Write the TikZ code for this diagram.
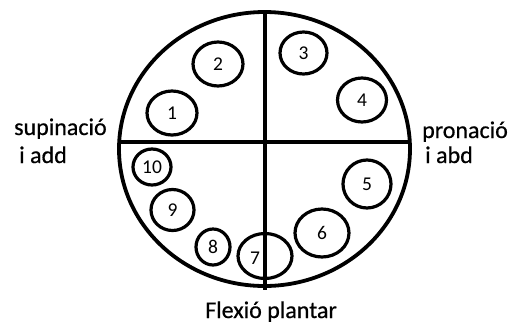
\documentclass[tikz,border=0pt]{standalone}
\usepackage{fontspec}
\setmainfont{Carlito}
\newfontfamily\labelfont[FakeBold=0.6]{Carlito}
\usetikzlibrary{shapes.geometric}
\begin{document}
\begin{tikzpicture}[x=1pt,y=-1pt,
  ring/.style={ellipse,draw,line width=3.2pt,inner sep=0pt,font=\fontsize{19.5}{19.5}\selectfont},
  axis/.style={line width=3.2pt},
  side/.style={font=\labelfont\fontsize{24}{24}\selectfont,anchor=base west,inner sep=0pt}]
\useasboundingbox (0,0) rectangle (515,325);
\draw[line width=3.8pt] (264.5,149) ellipse [x radius=145.5pt, y radius=137pt];
\coordinate (top) at (265,12);
\coordinate (bot) at (265,290);
\coordinate (lft) at (119,142);
\coordinate (rgt) at (410,142);
\draw[axis] (top) -- (bot);
\draw[axis] (lft) -- (rgt);
\node[ring,minimum width=50pt,minimum height=44pt] (c1) at (172,113) {1};
\node[ring,minimum width=50pt,minimum height=44pt] (c2) at (218,64) {2};
\node[ring,minimum width=47pt,minimum height=42pt] (c3) at (303.5,53) {3};
\node[ring,minimum width=49pt,minimum height=44pt] (c4) at (362,100) {4};
\node[ring,minimum width=48pt,minimum height=48pt] (c5) at (367,184) {5};
\node[ring,minimum width=54pt,minimum height=48pt] (c6) at (322,233) {6};
\node[ring,minimum width=54pt,minimum height=45pt] (c7) at (265,256) {};
\node[font=\fontsize{19.5}{19.5}\selectfont,inner sep=0pt] (t7) at (255,258) {7};
\node[ring,minimum width=34pt,minimum height=36pt] (c8) at (213,247) {8};
\node[ring,minimum width=43pt,minimum height=41pt] (c9) at (172.5,210) {9};
\node[ring,minimum width=38pt,minimum height=36pt] (c10) at (152,167) {10};
\node[side] (sup) at (14,135) {supinació};
\node[side] (iadd) at (19,163) {i add};
\node[side] (pro) at (422,138) {pronació};
\node[side] (iabd) at (425,163) {i abd};
\node[side] (flex) at (205,318) {Flexió plantar};
\end{tikzpicture}
\end{document}
